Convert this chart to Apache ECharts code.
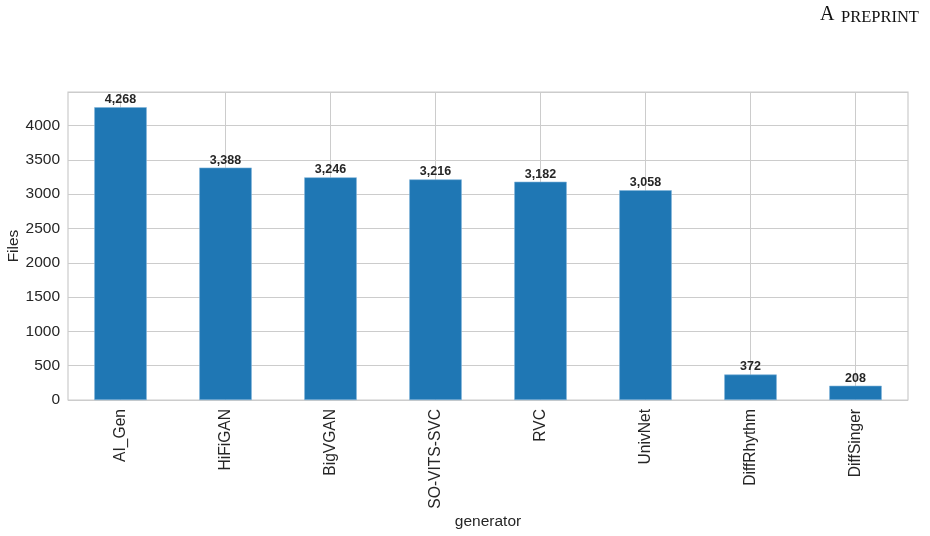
<!DOCTYPE html>
<html>
<head>
<meta charset="utf-8">
<script src="https://cdn.jsdelivr.net/npm/echarts@6/dist/echarts.min.js"></script>
<style>
  html, body { margin: 0; padding: 0; background: #fff; }
  #chart { width: 930px; height: 536px; }
</style>
</head>
<body>
<div id="chart"></div>
<script>
const generators = ['AI_Gen', 'HiFiGAN', 'BigVGAN', 'SO-VITS-SVC', 'RVC', 'UnivNet', 'DiffRhythm', 'DiffSinger'];
const files = [4268, 3388, 3246, 3216, 3182, 3058, 372, 208];

const textColor = '#262626';
const gridColor = '#cccccc';

const chart = echarts.init(document.getElementById('chart'));
chart.setOption({
  animation: false,
  backgroundColor: '#ffffff',
  textStyle: { fontFamily: '"Liberation Sans", Arial, sans-serif' },
  graphic: [
    {
      type: 'text', left: 820, top: 5,
      style: { text: 'A', font: '20px "Liberation Serif", serif', fill: '#111' }
    },
    {
      type: 'text', left: 841, top: 9,
      style: { text: 'PREPRINT', font: '16.5px "Liberation Serif", serif', fill: '#111' }
    }
  ],
  grid: {
    left: 68, right: 22, top: 92, bottom: 136,
    outerBoundsMode: 'none', containLabel: false,
    show: true, borderColor: gridColor, borderWidth: 1.2
  },
  xAxis: {
    type: 'category',
    data: generators,
    name: 'generator',
    nameLocation: 'middle',
    nameGap: 114,
    nameMoveOverlap: false,
    nameTextStyle: { fontSize: 15.5, color: textColor },
    axisLine: { show: false },
    axisTick: { show: false, alignWithLabel: true },
    axisLabel: { rotate: 90, fontSize: 15.6, color: textColor, margin: 9, interval: 0 },
    splitLine: { show: true, interval: 0, alignWithLabel: true, lineStyle: { color: gridColor, width: 1 } }
  },
  yAxis: {
    type: 'value',
    min: 0, max: 4490, interval: 500,
    name: 'Files',
    nameLocation: 'middle',
    nameGap: 46,
    nameMoveOverlap: false,
    nameTextStyle: { fontSize: 15.5, color: textColor },
    axisLine: { show: false },
    axisTick: { show: false },
    axisLabel: {
      fontSize: 15.5, color: textColor, margin: 8,
      formatter: v => (v % 500 === 0 ? String(v) : '')
    },
    splitLine: { show: true, lineStyle: { color: gridColor, width: 1 } }
  },
  series: [{
    type: 'bar',
    data: files,
    barWidth: '50%',
    itemStyle: { color: '#1f77b4', borderColor: '#7fb3da', borderWidth: 0.6 },
    label: {
      show: true, position: 'top', distance: 1,
      fontSize: 12.5, fontWeight: 'bold', color: textColor,
      formatter: p => p.value.toLocaleString('en-US')
    }
  }]
});
</script>
</body>
</html>
